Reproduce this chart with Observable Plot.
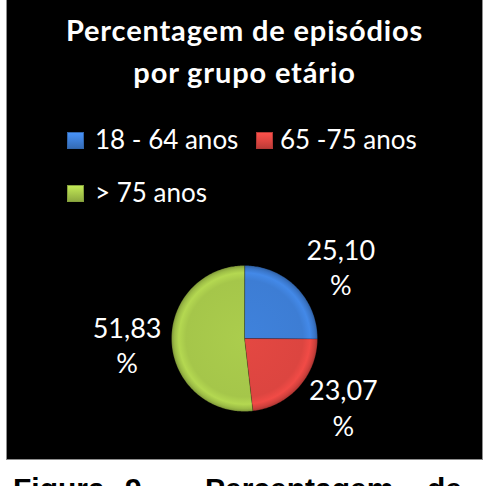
<!DOCTYPE html>
<html><head><meta charset="utf-8">
<script src="https://cdn.jsdelivr.net/npm/d3@7"></script>
<script src="https://cdn.jsdelivr.net/npm/@observablehq/plot@0.6"></script>
<style>
html,body{margin:0;padding:0;background:#fff;}
body{width:487px;height:486px;overflow:hidden;position:relative;font-family:Lato,sans-serif;}
#box{position:absolute;left:6px;top:-1px;width:477px;height:461px;background:#000;border:1px solid #8e8e8e;box-sizing:border-box;}
.title{position:absolute;left:6px;width:477px;top:9px;text-align:center;color:#fff;font-weight:bold;font-size:29px;line-height:41.5px;letter-spacing:0.85px;}
.leg{position:absolute;color:#fff;font-size:26px;line-height:30px;white-space:nowrap;}
.sw{position:absolute;width:17px;height:17px;box-sizing:border-box;}
#chart{position:absolute;left:6px;top:225px;}
.cap{position:absolute;top:474px;font-family:"Liberation Sans",Arial,sans-serif;font-weight:bold;font-size:30px;line-height:30px;color:#000;white-space:nowrap}
</style></head>
<body>
<div id="box"></div>
<svg width="0" height="0" style="position:absolute;left:0;top:0"><defs id="defs"></defs></svg>
<div class="title" id="title"></div>
<div id="legend"></div>
<div id="chart"></div>
<div id="caption"></div>
<script>
const titleLines = ["Percentagem de episódios", "por grupo etário"];
const categories = ["18 - 64 anos", "65 -75 anos", "> 75 anos"];
const values = [25.10, 23.07, 51.83];
const captionWords = ["Figura", "9", "–", "Percentagem", "de"];
const baseColors = ["#3d7dd4", "#dc4540", "#a5c64a"];

// title
document.getElementById("title").innerHTML = titleLines.join("<br>");

// legend (HTML)
const legPos = [{sx:67, sy:132, tx:95, ty:124}, {sx:256, sy:132, tx:280, ty:124}, {sx:67, sy:185, tx:95, ty:176.7}];
const legend = document.getElementById("legend");
categories.forEach((c, i) => {
  const p = legPos[i];
  const col = d3.color(baseColors[i]);
  const sw = document.createElement("div");
  sw.className = "sw";
  sw.style.left = p.sx + "px"; sw.style.top = p.sy + "px";
  sw.style.background = `linear-gradient(180deg, ${col.brighter(0.5)} 0%, ${col} 55%, ${col.darker(0.5)} 100%)`;
  sw.style.boxShadow = `inset 0 0 0 1px ${col.darker(0.6)}`;
  legend.appendChild(sw);
  const t = document.createElement("div");
  t.className = "leg";
  t.style.left = p.tx + "px"; t.style.top = p.ty + "px";
  t.textContent = c;
  legend.appendChild(t);
});

// pie geometry from the values
const arcs = d3.pie().sort(null)(values);
const pts = [];
arcs.forEach((a, i) => {
  pts.push({x: 0, y: 0, cat: categories[i]});
  const n = Math.max(2, Math.ceil((a.endAngle - a.startAngle) / (Math.PI / 180)));
  for (let j = 0; j <= n; j++) {
    const t = a.startAngle + (a.endAngle - a.startAngle) * j / n;
    pts.push({x: Math.sin(t), y: Math.cos(t), cat: categories[i]});
  }
});
const labels = arcs.map((a, i) => {
  const m = (a.startAngle + a.endAngle) / 2;
  const s = Math.sin(m), c = Math.cos(m);
  return {x: s + Math.sign(s) * 0.61, y: 1.4 * c,
          text: values[i].toFixed(2).replace(".", ",") + "\n%"};
});

const chart = Plot.plot({
  width: 477, height: 235,
  marginLeft: 165, marginRight: 166, marginTop: 40, marginBottom: 49,
  x: {domain: [-1, 1], axis: null},
  y: {domain: [-1, 1], axis: null},
  color: {domain: categories, range: categories.map((_, i) => `url(#pg${i})`)},
  style: {background: "transparent", color: "#fff", overflow: "visible"},
  marks: [
    Plot.line(pts, {x: "x", y: "y", z: "cat", fill: "cat", stroke: "#000", strokeOpacity: 0.3, strokeWidth: 0.7, curve: "linear-closed"}),
    Plot.text(labels, {x: "x", y: "y", text: "text", fill: "#fff", fontSize: 27, fontFamily: "Lato", lineHeight: 1.3})
  ]
});
document.getElementById("chart").appendChild(chart);

// radial gradients centred on the pie (from the scales)
const cx = chart.scale("x").apply(0), cy = chart.scale("y").apply(0);
const r = chart.scale("x").apply(1) - cx;
const defs = d3.select("#defs");
baseColors.forEach((c, i) => {
  const col = d3.color(c);
  const g = defs.append("radialGradient").attr("id", `pg${i}`)
    .attr("gradientUnits", "userSpaceOnUse")
    .attr("cx", cx).attr("cy", cy).attr("r", r);
  g.append("stop").attr("offset", "0%").attr("stop-color", col.brighter(0.1));
  g.append("stop").attr("offset", "80%").attr("stop-color", col);
  g.append("stop").attr("offset", "90%").attr("stop-color", col.brighter(0.25));
  g.append("stop").attr("offset", "96%").attr("stop-color", col.darker(0.15));
  g.append("stop").attr("offset", "100%").attr("stop-color", col.darker(0.7));
});

// caption
const capPos = [13, 125, 160, 205, 427];
const cap = document.getElementById("caption");
captionWords.forEach((w, i) => {
  const s = document.createElement("div");
  s.className = "cap";
  s.style.left = capPos[i] + "px";
  s.textContent = w;
  cap.appendChild(s);
});
</script>
</body></html>
